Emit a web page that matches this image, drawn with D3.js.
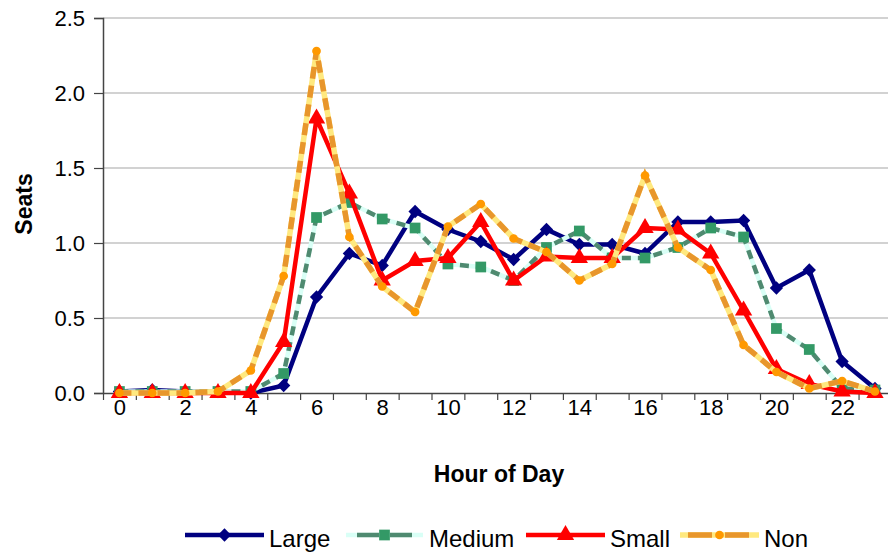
<!DOCTYPE html>
<html><head><meta charset="utf-8">
<script src="https://cdn.jsdelivr.net/npm/d3@7"></script>
<style>
html,body{margin:0;padding:0;background:#fff;}
text{font-family:"Liberation Sans",Arial,sans-serif;fill:#000;}
</style></head>
<body><svg id="c" width="888" height="555"></svg>
<script>
const hours = [0,1,2,3,4,5,6,7,8,9,10,11,12,13,14,15,16,17,18,19,20,21,22,23];
const xTickLabels = [0,2,4,6,8,10,12,14,16,18,20,22];
const yTicks = [0,0.5,1.0,1.5,2.0,2.5];
const seriesNames = ["Large","Medium","Small","Non"];
const large  = [0.01,0.02,0.01,0.01,0.00,0.05,0.64,0.93,0.85,1.21,1.09,1.01,0.89,1.09,0.99,0.99,0.93,1.14,1.14,1.15,0.70,0.82,0.21,0.03];
const medium = [0.01,0.01,0.01,0.01,0.01,0.13,1.17,1.27,1.16,1.10,0.86,0.84,0.75,0.97,1.08,0.90,0.90,0.97,1.10,1.04,0.43,0.29,0.03,0.02];
const small  = [0.00,0.00,0.00,0.00,0.00,0.34,1.83,1.33,0.75,0.88,0.90,1.14,0.75,0.91,0.90,0.90,1.10,1.09,0.93,0.55,0.16,0.06,0.01,0.00];
const non    = [0.00,0.00,0.00,0.01,0.15,0.78,2.28,1.04,0.71,0.54,1.11,1.26,1.03,0.94,0.75,0.86,1.45,0.97,0.82,0.32,0.14,0.03,0.08,0.01];

const svg = d3.select("#c");
const plotLeft = 103, plotBottom = 393, plotTop = 18, step = 32.85;
const x = d3.scaleLinear().domain([-0.5, 23.5]).range([plotLeft, plotLeft + 24*step]);
const y = d3.scaleLinear().domain([0, 2.5]).range([plotBottom, plotTop]);

// gridlines
svg.append("g").selectAll("line").data(yTicks.filter(d=>d>0)).join("line")
  .attr("x1", plotLeft).attr("x2", 888).attr("y1", d=>y(d)).attr("y2", d=>y(d))
  .attr("stroke", "#a6a6a6").attr("stroke-width", 1.2);

// y axis
const yAxis = svg.append("g").attr("transform", `translate(${plotLeft},0)`)
  .call(d3.axisLeft(y).tickValues(yTicks).tickFormat(d3.format(".1f")).tickSize(9).tickPadding(9));
yAxis.select(".domain").attr("stroke", "#444").attr("stroke-width", 1.5);
yAxis.selectAll(".tick line").attr("stroke", "#444").attr("stroke-width", 1.2);
yAxis.selectAll("text").attr("font-size", 22).attr("font-family", '"Liberation Sans",Arial,sans-serif');

// x axis ticks at boundaries
const boundaries = d3.range(-0.5, 24, 1);
const xAxis = svg.append("g").attr("transform", `translate(0,${plotBottom})`)
  .call(d3.axisBottom(x).tickValues(boundaries).tickFormat("").tickSize(7).tickSizeOuter(0));
xAxis.select(".domain").attr("stroke", "#444").attr("stroke-width", 1.5);
xAxis.selectAll(".tick line").attr("stroke", "#444").attr("stroke-width", 1.2);
const xLab = svg.append("g").attr("transform", `translate(0,${plotBottom})`)
  .call(d3.axisBottom(x).tickValues(xTickLabels).tickSize(0).tickPadding(6));
xLab.select(".domain").remove();
xLab.selectAll("text").attr("font-size", 22).attr("font-family", '"Liberation Sans",Arial,sans-serif');

// titles
svg.append("text").attr("x", 499).attr("y", 482).attr("text-anchor", "middle")
  .attr("font-size", 23).attr("font-weight", "bold").text("Hour of Day");
svg.append("text").attr("transform", "translate(32,204) rotate(-90)").attr("text-anchor", "middle")
  .attr("font-size", 23).attr("font-weight", "bold").text("Seats");

const line = d3.line().x((d,i)=>x(hours[i])).y(d=>y(d));

const styles = {
  Large:  {data: large,  layers:[{c:"#000080", w:4.5}], marker:"diamond", mfill:"#000080", msize:160, leg:null},
  Medium: {data: medium, layers:[{c:"#d9fff6", w:4.5},{c:"#4f8a70", w:4.5, dash:"9,7", leg:"0,11,22,11,22,100"}], marker:"square", mfill:"#339966", msize:115},
  Small:  {data: small,  layers:[{c:"#ff0000", w:4.5}], marker:"triangle", mfill:"#ff0000", msize:130},
  Non:    {data: non,    layers:[{c:"#ffe97f", w:5.5},{c:"#e8962c", w:5.5, dash:"12,7", leg:"0,8,24,13,24,100"}], marker:"circle", mfill:"#ff9900", msize:60}
};
const symType = {square:d3.symbolSquare, triangle:d3.symbolTriangle, circle:d3.symbolCircle};
function diamondPath(s){ const r = Math.sqrt(s)/2*1.05; return `M0,${-r}L${r},0L0,${r}L${-r},0Z`; }
function markerPath(kind, size){
  if(kind==="diamond") return diamondPath(size);
  return d3.symbol().type(symType[kind]).size(size)();
}

seriesNames.forEach(name=>{
  const s = styles[name];
  const g = svg.append("g");
  s.layers.forEach(l=>{
    g.append("path").attr("d", line(s.data)).attr("fill","none").attr("stroke", l.c)
      .attr("stroke-width", l.w).attr("stroke-linejoin","miter").attr("stroke-dasharray", l.dash||null);
  });
  g.selectAll("path.m").data(s.data).join("path").attr("class","m")
    .attr("transform", (d,i)=>`translate(${x(hours[i])},${y(d)})`)
    .attr("d", markerPath(s.marker, s.msize)).attr("fill", s.mfill);
});

// legend
const legendItems = [
  {name:"Large", x0:185, x1:264, tx:269},
  {name:"Medium", x0:346, x1:423, tx:429},
  {name:"Small", x0:526, x1:605, tx:610},
  {name:"Non", x0:680, x1:759, tx:764}
];
const ly = 535;
legendItems.forEach(it=>{
  const s = styles[it.name];
  const g = svg.append("g");
  s.layers.forEach(l=>{
    g.append("line").attr("x1", it.x0).attr("x2", it.x1).attr("y1", ly).attr("y2", ly)
      .attr("stroke", l.c).attr("stroke-width", l.w).attr("stroke-dasharray", l.leg || null);
  });
  g.append("path").attr("transform", `translate(${(it.x0+it.x1)/2},${ly})`)
    .attr("d", markerPath(s.marker, s.msize)).attr("fill", s.mfill);
  g.append("text").attr("x", it.tx).attr("y", ly+12).attr("font-size", 24).text(it.name);
});
</script></body></html>
